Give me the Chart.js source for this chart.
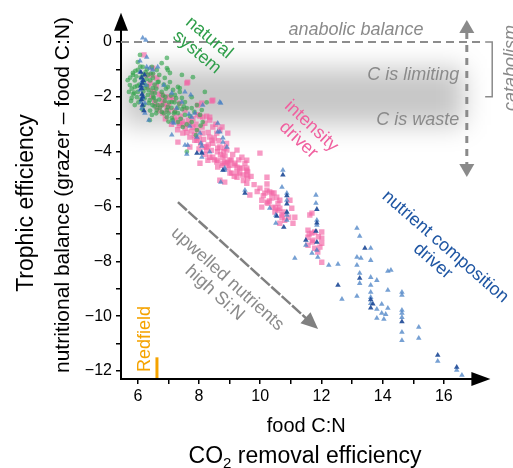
<!DOCTYPE html>
<html><head><meta charset="utf-8">
<script src="https://cdn.jsdelivr.net/npm/chart.js@4"></script>
<style>html,body{margin:0;padding:0;background:#fff}#wrap{width:513px;height:468px;position:relative}</style>
</head><body><div id="wrap"><canvas id="c" width="513" height="468"></canvas></div>
<script>
// ---------- data (food C:N, nutritional balance) ----------
const naturalSystem = [[5.67,-1.39],[5.74,-1.57],[5.71,-1.82],[5.80,-2.04],[5.90,-2.30],[6.00,-1.02],[6.16,-1.20],[6.33,-1.20],[6.49,-1.31],[6.49,-1.68],[6.52,-2.04],[6.65,-2.30],[6.78,-1.82],[6.78,-2.55],[6.95,-2.74],[6.98,-2.37],[7.11,-2.77],[7.21,-2.55],[7.31,-2.92],[7.21,-1.93],[7.37,-1.68],[7.44,-2.04],[7.60,-2.41],[7.54,-2.66],[7.80,-1.28],[6.98,-1.02],[6.88,-1.31],[6.62,-1.02],[6.46,-0.91],[6.16,-0.91],[6.00,-0.73],[5.84,-1.13],[8.03,-2.66],[7.93,-2.30],[8.19,-1.82],[8.12,-2.92],[6.00,-1.82],[5.97,-2.01],[6.23,-1.68],[6.33,-1.93],[6.36,-2.23],[6.62,-2.48],[6.65,-1.46],[6.98,-1.64],[7.11,-2.19],[7.76,-2.92],[7.93,-3.21],[7.44,-1.20],[7.05,-1.46],[7.31,-1.64],[7.37,-1.82],[7.05,-1.13],[6.95,-0.95],[6.78,-0.77],[6.95,-0.58],[6.07,-0.47],[5.84,-1.20],[5.90,-1.64],[6.39,-2.85],[6.46,-2.66],[7.54,-2.19],[7.76,-2.01],[8.09,-2.48],[7.31,-2.59],[6.56,-1.86],[6.39,-2.12],[6.95,-2.48],[7.14,-2.85],[7.47,-3.10],[7.76,-2.41],[6.10,-1.30],[6.20,-1.50],[6.30,-1.60],[6.40,-1.40],[6.10,-2.10],[6.20,-2.30],[6.40,-2.50],[6.50,-2.00],[6.60,-1.70],[6.70,-2.10],[6.80,-2.30],[6.90,-2.00],[7.00,-2.60],[7.10,-2.40],[7.20,-2.20],[7.30,-2.40],[6.30,-1.00],[6.50,-1.15],[5.90,-1.40],[5.80,-1.70],[6.05,-1.55],[6.45,-1.85],[6.60,-2.60],[6.85,-2.60],[7.00,-2.90],[7.40,-2.80],[7.60,-3.00],[7.70,-2.70],[7.90,-3.40],[8.05,-3.05],[7.60,-4.00],[7.85,-2.55],[8.25,-2.20],[5.95,-1.25],[6.25,-1.10],[6.70,-1.20],[6.85,-1.55],[7.15,-1.75],[5.85,-1.90],[6.15,-2.45],[6.55,-2.35],[7.45,-2.45],[5.75,-1.30],[5.78,-2.15],[5.88,-1.85],[5.92,-1.05],[5.98,-1.60],[6.02,-2.20],[6.08,-0.90],[6.18,-1.80],[6.22,-2.05],[6.28,-1.35],[6.35,-1.75],[6.42,-1.15],[6.48,-2.30],[6.55,-1.55],[6.58,-2.15],[6.68,-1.45],[6.72,-2.40],[6.82,-1.95],[6.88,-2.15],[6.92,-1.70],[7.02,-2.20],[7.08,-1.95],[7.18,-2.60],[7.25,-2.05],[7.35,-2.25],[7.50,-2.35]];

const intensityDriver = [[6.20,-0.47],[6.49,-0.95],[6.46,-1.20],[6.62,-1.31],[6.33,-1.64],[6.46,-2.01],[6.62,-2.37],[6.82,-2.59],[7.60,-1.50],[7.63,-1.46],[7.96,-2.30],[8.12,-2.74],[8.19,-2.96],[8.35,-2.85],[8.45,-2.12],[8.45,-3.10],[8.68,-3.21],[7.93,-3.21],[7.86,-3.58],[7.70,-3.83],[7.31,-3.65],[8.19,-3.83],[8.42,-3.58],[8.68,-3.83],[8.78,-4.20],[8.91,-4.42],[9.17,-4.42],[9.56,-4.31],[9.56,-4.60],[9.56,-4.85],[9.99,-4.05],[10.22,-4.93],[9.33,-4.60],[8.29,-4.31],[8.03,-4.42],[8.42,-2.15],[8.03,-2.70],[8.25,-2.70],[7.80,-3.10],[8.12,-3.32],[8.35,-3.47],[8.58,-3.32],[8.45,-3.69],[8.61,-3.87],[8.91,-3.94],[9.01,-4.31],[9.17,-4.49],[9.33,-4.78],[9.56,-4.67],[8.84,-4.38],[8.58,-4.38],[8.35,-4.20],[8.25,-3.94],[7.93,-3.58],[7.70,-3.47],[7.47,-3.32],[7.37,-2.96],[7.21,-2.74],[6.95,-2.37],[6.82,-2.12],[6.78,-1.93],[7.05,-2.01],[7.37,-2.23],[7.54,-2.48],[8.09,-2.23],[8.35,-2.74],[8.75,-3.10],[8.94,-3.32],[9.24,-3.94],[9.40,-4.20],[9.50,-4.42],[9.59,-4.96],[8.25,-3.83],[8.45,-4.20],[8.61,-4.31],[8.84,-3.87],[8.61,-4.56],[8.78,-4.42],[8.94,-4.38],[9.01,-4.78],[9.24,-4.56],[9.24,-4.74],[9.24,-4.93],[9.59,-4.74],[9.56,-5.15],[10.22,-5.18],[10.15,-5.51],[10.31,-5.47],[9.99,-5.33],[10.05,-5.77],[10.22,-5.84],[10.05,-6.02],[10.38,-5.69],[10.54,-5.66],[10.58,-5.88],[10.64,-6.06],[10.71,-6.31],[10.48,-6.20],[9.66,-5.58],[8.84,-5.11],[8.68,-5.04],[9.07,-4.78],[9.43,-4.85],[10.22,-5.40],[10.38,-5.51],[10.64,-5.77],[10.58,-6.13],[10.41,-6.02],[10.25,-5.88],[10.97,-5.77],[11.03,-6.06],[10.71,-6.39],[10.64,-6.61],[11.07,-6.61],[11.13,-6.39],[10.93,-6.39],[11.62,-6.31],[11.69,-6.97],[11.56,-6.86],[11.56,-7.12],[11.72,-7.23],[12.01,-6.93],[12.01,-7.15],[12.01,-7.34],[11.95,-7.48],[11.56,-7.41],[11.78,-7.52],[11.88,-7.66],[11.69,-6.24],[11.78,-6.93],[12.01,-8.03],[6.40,-1.50],[6.50,-1.80],[6.55,-2.20],[6.70,-2.50],[6.90,-2.80],[7.00,-2.30],[7.10,-3.00],[7.20,-2.50],[7.30,-3.20],[7.40,-2.70],[7.50,-3.00],[7.60,-3.30],[7.80,-2.80],[7.90,-3.00],[8.00,-3.50],[8.00,-3.90],[8.10,-3.10],[8.30,-3.30],[8.50,-3.50],[8.60,-4.00],[8.70,-4.10],[8.80,-4.00],[9.00,-4.50],[9.10,-4.10],[8.90,-3.70],[7.70,-3.00],[6.30,-1.20],[6.60,-1.60],[6.90,-2.00],[7.15,-2.10],[7.45,-2.90],[7.55,-3.15],[7.65,-2.85],[7.75,-3.25],[7.85,-3.40],[7.95,-2.65],[8.05,-3.70],[8.15,-3.55],[8.20,-4.10],[8.30,-3.75],[8.40,-3.95],[8.50,-4.30],[8.55,-3.00],[8.65,-3.60],[8.75,-4.50],[8.85,-4.15],[8.95,-4.60],[9.05,-4.30],[9.15,-4.90],[9.30,-4.30],[9.40,-4.60],[9.45,-5.05],[9.70,-4.90],[9.80,-5.20],[9.90,-5.45],[10.10,-5.60],[10.30,-5.80],[10.45,-5.50],[10.50,-6.05],[10.75,-6.20],[10.80,-6.50],[11.60,-7.00],[11.70,-7.30],[11.90,-7.10],[6.70,-1.90],[6.75,-2.30],[6.85,-2.25],[7.00,-2.50],[7.25,-2.85],[7.35,-3.05]];

const nutrientDriver = [[6.16,0.15],[6.26,0.07],[6.07,-0.69],[6.29,-0.91],[6.49,-1.02],[6.16,-1.39],[6.07,-1.75],[6.16,-2.04],[6.23,-2.23],[6.07,-1.09],[6.13,-1.46],[6.13,-1.68],[6.13,-1.93],[6.10,-2.19],[6.13,-2.41],[6.23,-2.59],[6.36,-2.85],[6.39,-0.95],[6.65,-0.91],[6.85,-1.57],[7.11,-1.86],[7.73,-1.93],[8.12,-2.30],[7.54,-1.82],[8.68,-2.19],[7.14,-2.92],[7.11,-3.39],[7.70,-3.07],[7.93,-3.47],[7.54,-3.76],[6.29,-0.55],[6.26,-1.57],[7.44,-2.19],[8.71,-2.23],[7.18,-2.96],[7.27,-2.41],[7.67,-2.63],[7.86,-2.59],[8.61,-2.96],[8.68,-3.28],[8.78,-3.50],[7.63,-3.76],[8.09,-3.80],[7.60,-4.09],[8.84,-4.67],[8.09,-4.01],[7.76,-2.74],[8.03,-3.32],[8.61,-3.28],[8.91,-3.83],[8.06,-3.69],[8.35,-4.01],[8.78,-3.65],[8.09,-4.20],[8.84,-4.60],[8.71,-5.11],[9.50,-5.40],[10.74,-4.67],[10.71,-5.29],[10.87,-5.51],[10.87,-5.77],[10.87,-6.31],[10.87,-6.50],[10.31,-6.06],[10.51,-6.31],[10.51,-6.61],[11.13,-7.88],[11.88,-7.85],[11.82,-5.58],[11.82,-5.88],[11.85,-6.50],[11.85,-6.68],[11.49,-7.41],[11.69,-7.70],[11.85,-7.59],[13.16,-6.79],[13.25,-7.08],[13.61,-7.52],[13.16,-7.85],[13.29,-7.88],[13.61,-7.96],[13.16,-8.14],[12.24,-8.14],[12.54,-8.10],[13.25,-8.43],[13.25,-8.80],[13.61,-8.58],[13.81,-8.69],[14.17,-8.36],[14.27,-8.32],[13.16,-9.27],[12.67,-9.38],[13.61,-8.87],[13.61,-9.12],[13.61,-9.31],[13.61,-9.53],[13.81,-9.74],[13.97,-9.56],[14.17,-9.71],[13.97,-9.89],[14.10,-9.93],[13.81,-10.07],[14.04,-10.11],[14.17,-9.05],[14.63,-9.12],[14.63,-9.23],[14.63,-9.78],[14.63,-9.89],[14.63,-10.04],[14.63,-10.58],[14.63,-10.88],[15.18,-10.40],[15.18,-10.80],[15.80,-11.64],[16.42,-11.97],[16.59,-12.15]];

const nutrientDriverDense = [[6.10,-1.10],[6.12,-1.30],[6.15,-1.50],[6.12,-1.70],[6.14,-1.90],[6.12,-2.10],[6.15,-2.30],[6.20,-2.50],[6.18,-1.40],[6.10,-1.60],[6.16,-2.00],[6.22,-1.20],[10.87,-5.60],[10.87,-5.90],[10.87,-6.20],[10.77,-6.75],[10.54,-6.35],[11.85,-6.10],[11.85,-6.60],[11.82,-6.90],[11.49,-7.23],[11.85,-7.30],[13.61,-9.40],[13.68,-9.55],[13.61,-9.70],[14.63,-10.20],[15.80,-11.42],[16.42,-11.86],[8.09,-4.05],[7.93,-4.05],[8.78,-4.67],[9.50,-5.51],[10.74,-4.85],[13.25,-8.61],[13.42,-7.52],[12.54,-8.87]];

const xTickLabels = [6, 8, 10, 12, 14, 16];
const yTickLabels = [0, -2, -4, -6, -8, -10, -12];
const redfield = 6.625;
const bandRange = [-0.95, -3.03];

// ---------- chart ----------
const FF = "'Liberation Sans', Arial, Helvetica, sans-serif";
Chart.defaults.font.family = FF;
const pts = a => a.map(p => ({x: p[0], y: p[1]}));
const fmt = v => { const r = Math.round(v); return r < 0 ? '\u2212' + Math.abs(r) : String(r); };

function txt(ctx, lines, px, py, ang, font, color, lh, align) {
  ctx.save();
  ctx.translate(px, py);
  ctx.rotate(ang * Math.PI / 180);
  ctx.font = font; ctx.fillStyle = color;
  ctx.textAlign = align || 'center'; ctx.textBaseline = 'middle';
  const n = lines.length;
  lines.forEach((l, i) => ctx.fillText(l, 0, (i - (n - 1) / 2) * lh));
  ctx.restore();
}
function head(ctx, tx, ty, ang, len, hw, color) {
  ctx.save();
  ctx.translate(tx, ty); ctx.rotate(ang);
  ctx.beginPath(); ctx.moveTo(0, 0); ctx.lineTo(-len, -hw); ctx.lineTo(-len, hw); ctx.closePath();
  ctx.fillStyle = color; ctx.fill();
  ctx.restore();
}

const annot = {
  id: 'annot',
  beforeDatasetsDraw(chart) {
    const {ctx, chartArea: a, scales: {x, y}} = chart;
    ctx.save();
    ctx.beginPath(); ctx.rect(a.left + 1, 0, 513, 468); ctx.clip();
    ctx.filter = 'blur(13px)';
    ctx.fillStyle = 'rgba(0,0,0,0.22)';
    const y1 = y.getPixelForValue(bandRange[0]), y2 = y.getPixelForValue(bandRange[1]);
    const x1 = x.getPixelForValue(5.5), x2 = x.getPixelForValue(16.65);
    ctx.fillRect(x1, y1, x2 - x1, y2 - y1);
    ctx.restore();
    ctx.save();
    ctx.strokeStyle = '#8c8c8c'; ctx.lineWidth = 2; ctx.setLineDash([8, 5]);
    const y0 = y.getPixelForValue(0);
    ctx.beginPath(); ctx.moveTo(a.left, y0); ctx.lineTo(x.getPixelForValue(17.2), y0); ctx.stroke();
    ctx.restore();
  },
  afterDraw(chart) {
    const {ctx, chartArea: a, scales: {x, y}} = chart;
    const G = '#8a8a8a';
    ctx.save();
    ctx.strokeStyle = '#000'; ctx.lineWidth = 2;
    ctx.beginPath(); ctx.moveTo(a.right - 1, a.bottom); ctx.lineTo(a.right + 6, a.bottom); ctx.stroke();
    ctx.restore();
    head(ctx, a.right + 19, a.bottom, 0, 19, 7, '#000');
    head(ctx, a.left, a.top - 17, -Math.PI / 2, 18, 7, '#000');
    ctx.save();
    ctx.strokeStyle = '#f5a300'; ctx.lineWidth = 3;
    const rx = x.getPixelForValue(redfield);
    ctx.beginPath(); ctx.moveTo(rx, y.getPixelForValue(-11.5)); ctx.lineTo(rx, a.bottom - 1); ctx.stroke();
    ctx.restore();
    txt(ctx, ['Redfield'], x.getPixelForValue(6.22), y.getPixelForValue(-10.83), -90, '18px ' + FF, '#f5a300', 18);
    const vx = x.getPixelForValue(16.75);
    const vt = y.getPixelForValue(0.8), vb = y.getPixelForValue(-4.92);
    ctx.save();
    ctx.strokeStyle = G; ctx.lineWidth = 3; ctx.setLineDash([7, 6]);
    ctx.beginPath(); ctx.moveTo(vx, vt + 12); ctx.lineTo(vx, vb - 12); ctx.stroke();
    ctx.restore();
    head(ctx, vx, vt, -Math.PI / 2, 13, 7.5, G);
    head(ctx, vx, vb, Math.PI / 2, 13, 7.5, G);
    ctx.save();
    ctx.strokeStyle = G; ctx.lineWidth = 1.5;
    const bx = x.getPixelForValue(17.58), bl = x.getPixelForValue(17.35);
    const bt = y.getPixelForValue(0), bb = y.getPixelForValue(-2.0);
    ctx.beginPath(); ctx.moveTo(bl, bt); ctx.lineTo(bx, bt); ctx.lineTo(bx, bb); ctx.lineTo(bl, bb); ctx.stroke();
    ctx.restore();
    txt(ctx, ['catabolism'], x.getPixelForValue(18.2), y.getPixelForValue(-0.95), -90, 'italic 18px ' + FF, G, 18);
    const ax1 = x.getPixelForValue(7.31), ay1 = y.getPixelForValue(-5.84);
    const ax2 = x.getPixelForValue(11.89), ay2 = y.getPixelForValue(-10.47);
    const ang = Math.atan2(ay2 - ay1, ax2 - ax1);
    ctx.save();
    ctx.strokeStyle = '#808080'; ctx.lineWidth = 2.5; ctx.setLineDash([12, 2]);
    ctx.beginPath(); ctx.moveTo(ax1, ay1); ctx.lineTo(ax2 - 14 * Math.cos(ang), ay2 - 14 * Math.sin(ang)); ctx.stroke();
    ctx.restore();
    head(ctx, ax2, ay2, ang, 17, 7.5, '#808080');
    txt(ctx, ['anabolic balance'], x.getPixelForValue(13.13), y.getPixelForValue(0.44), 0, 'italic 18px ' + FF, G, 18);
    txt(ctx, ['C is limiting'], x.getPixelForValue(16.5), y.getPixelForValue(-1.2), 0, 'italic 18px ' + FF, G, 18, 'right');
    txt(ctx, ['C is waste'], x.getPixelForValue(16.5), y.getPixelForValue(-2.84), 0, 'italic 18px ' + FF, G, 18, 'right');
    txt(ctx, ['natural', 'system'], x.getPixelForValue(8.13), y.getPixelForValue(-0.11), 40, '18px ' + FF, '#2f9e4a', 19);
    txt(ctx, ['intensity', 'driver'], x.getPixelForValue(11.46), y.getPixelForValue(-3.32), 43, '18px ' + FF, '#f0609f', 19);
    txt(ctx, ['nutrient composition', 'driver'], x.getPixelForValue(15.84), y.getPixelForValue(-7.73), 41, '18px ' + FF, '#1f56a3', 19);
    txt(ctx, ['upwelled nutrients', 'high Si:N'], x.getPixelForValue(8.72), y.getPixelForValue(-8.9), 42, '18px ' + FF, '#8a8a8a', 19);
    txt(ctx, ['Trophic efficiency'], 27, 203, -90, '23px ' + FF, '#000', 23);
    txt(ctx, ['nutritional balance (grazer \u2013 food C:N)'], 63, 195, -90, '21px ' + FF, '#000', 21);
    txt(ctx, ['food C:N'], (a.left + a.right) / 2 + 10, 426, 0, '20px ' + FF, '#000', 20);
    ctx.save();
    ctx.fillStyle = '#000'; ctx.textAlign = 'left'; ctx.textBaseline = 'alphabetic';
    const big = '23px ' + FF, small = '15px ' + FF;
    ctx.font = big; const w1 = ctx.measureText('CO').width, w3 = ctx.measureText(' removal efficiency').width;
    ctx.font = small; const w2 = ctx.measureText('2').width;
    const cx = 305, x0 = cx - (w1 + w2 + w3) / 2, by = 463;
    ctx.font = big; ctx.fillText('CO', x0, by);
    ctx.font = small; ctx.fillText('2', x0 + w1, by + 5);
    ctx.font = big; ctx.fillText(' removal efficiency', x0 + w1 + w2, by);
    ctx.restore();
  }
};

new Chart(document.getElementById('c'), {
  type: 'scatter',
  data: {
    datasets: [
      {label: 'nutrient composition driver (dense)', data: pts(nutrientDriverDense), pointStyle: 'triangle', pointRadius: 3.2, backgroundColor: 'rgba(28,72,150,0.9)', borderWidth: 0, order: 0},
      {label: 'nutrient composition driver', data: pts(nutrientDriver), pointStyle: 'triangle', pointRadius: 3.2, backgroundColor: 'rgba(72,128,196,0.75)', borderWidth: 0, order: 1},
      {label: 'natural system', data: pts(naturalSystem), pointStyle: 'circle', pointRadius: 2.4, backgroundColor: 'rgba(52,165,78,0.65)', borderWidth: 0, order: 2},
      {label: 'intensity driver', data: pts(intensityDriver), pointStyle: 'rect', pointRadius: 3.8, backgroundColor: 'rgba(242,100,165,0.65)', borderWidth: 0, order: 3}
    ]
  },
  options: {
    responsive: false, animation: false, devicePixelRatio: 1,
    layout: {padding: {left: 0, top: 29.7, right: 41.6, bottom: 0}},
    plugins: {legend: {display: false}, tooltip: {enabled: false}},
    scales: {
      x: {
        type: 'linear', min: 5.45, max: 16.9,
        afterFit: s => { s.height = 89; },
        ticks: {stepSize: 1, includeBounds: false, autoSkip: false, maxRotation: 0, padding: 3, color: '#000', font: {size: 16},
          callback: v => xTickLabels.includes(Math.round(v)) && Math.abs(v - Math.round(v)) < 1e-6 ? fmt(v) : ''},
        grid: {drawOnChartArea: false, drawTicks: true, tickLength: 5, color: '#000', lineWidth: 1.5},
        border: {display: true, color: '#000', width: 2}
      },
      y: {
        type: 'linear', min: -12.29, max: 0.45,
        afterFit: s => { s.width = 121; },
        ticks: {stepSize: 1, includeBounds: false, autoSkip: false, padding: 4, color: '#000', font: {size: 16},
          callback: v => yTickLabels.includes(Math.round(v)) && Math.abs(v - Math.round(v)) < 1e-6 ? fmt(v) : ''},
        grid: {drawOnChartArea: false, drawTicks: true, tickLength: 5, color: '#000', lineWidth: 1.5},
        border: {display: true, color: '#000', width: 2}
      }
    }
  },
  plugins: [annot]
});
</script>
</body></html>
